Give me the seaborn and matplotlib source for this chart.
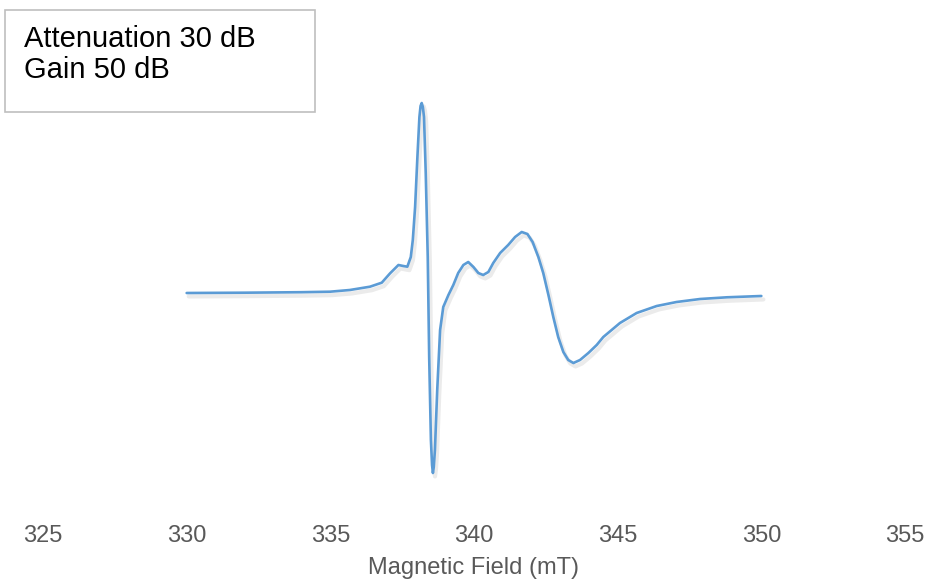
import matplotlib
matplotlib.use('Agg')
import matplotlib.pyplot as plt
import matplotlib.patheffects as pe
from matplotlib.patches import Rectangle
import seaborn as sns

sns.set_style("white")
plt.rcParams['font.family'] = ['Liberation Sans', 'DejaVu Sans']

# EPR spectrum (field in mT, signal in arbitrary units)
field = [330.0, 332.0, 334.0, 334.99, 335.68, 336.38, 336.79, 337.08, 337.37, 337.54,
         337.68, 337.80, 337.87, 337.95, 338.03, 338.10, 338.14, 338.18, 338.22, 338.26,
         338.32, 338.39, 338.44, 338.50, 338.54, 338.57, 338.60, 338.64, 338.72, 338.82,
         338.93, 339.11, 339.28, 339.45, 339.63, 339.80, 339.98, 340.15, 340.32, 340.50,
         340.67, 340.91, 341.19, 341.43, 341.66, 341.86, 342.04, 342.24, 342.41, 342.59,
         342.76, 342.93, 343.11, 343.28, 343.46, 343.69, 343.98, 344.27, 344.50, 345.08,
         345.66, 346.36, 347.05, 347.87, 348.80, 350.0]
signal = [0, 0.3, 0.8, 1.3, 3, 6.3, 10.3, 19.7, 28, 27,
          26.3, 36, 53, 86, 136, 176, 187, 190, 186, 176,
          120, 36, -64, -147, -172, -180, -174, -157, -97, -37,
          -14, -2, 8, 20, 28, 31, 26, 20, 18, 21,
          30, 40, 48, 56, 61, 59, 51, 36, 20, -2,
          -24, -44, -59, -67, -70, -67, -60, -52, -44, -30,
          -20, -13, -9, -6, -4.3, -3]

ticks = [325, 330, 335, 340, 345, 350, 355]
label_lines = ["Attenuation 30 dB", "Gain 50 dB"]

fig = plt.figure(figsize=(9.27, 5.79), dpi=100)
ax = fig.add_axes([43 / 927, 69 / 579, 862 / 927, 420 / 579])

sns.lineplot(x=field, y=signal, color='#5B9BD5', linewidth=1.9, ax=ax,
             solid_joinstyle='round', solid_capstyle='round',
             path_effects=[pe.SimpleLineShadow(offset=(1.5, -2.5), alpha=0.08, shadow_color='k', linewidth=3),
                           pe.Normal()])

ax.set_xlim(325, 355)
ax.set_ylim(-217, 203)
ax.set_xticks(ticks)
ax.set_xticklabels([str(t) for t in ticks], fontsize=17, color='#595959')
ax.set_yticks([])
ax.tick_params(axis='x', length=0, pad=11)
ax.set_xlabel('Magnetic Field (mT)', fontsize=17, color='#595959', labelpad=7)
for s in ax.spines.values():
    s.set_visible(False)

# annotation box in top-left corner
fig.patches.append(Rectangle((5 / 927, 1 - 112 / 579), 310 / 927, 102 / 579,
                             transform=fig.transFigure, facecolor='white',
                             edgecolor='#BFBFBF', linewidth=1.2))
fig.text(24 / 927, 1 - 47 / 579, label_lines[0], fontsize=21, color='black', va='baseline')
fig.text(24 / 927, 1 - 78 / 579, label_lines[1], fontsize=21, color='black', va='baseline')

fig.savefig('out.png', dpi=100)
